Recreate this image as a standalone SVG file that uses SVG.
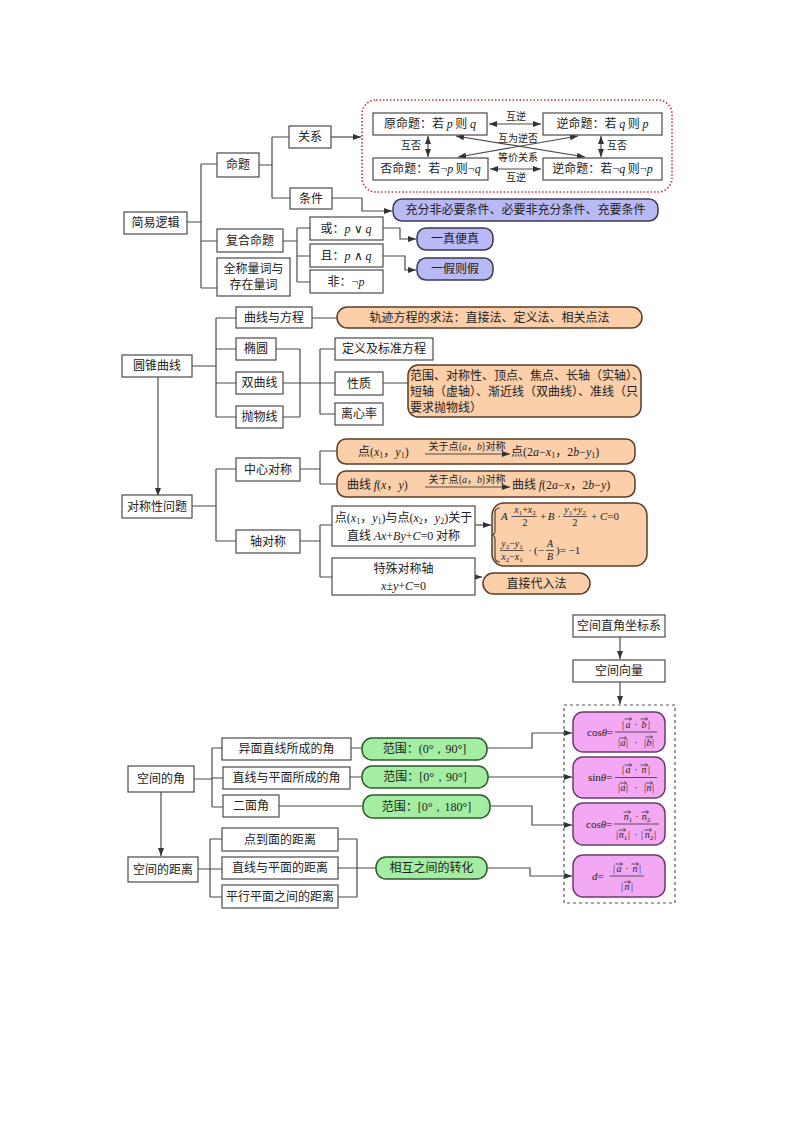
<svg xmlns="http://www.w3.org/2000/svg" width="800" height="1132" viewBox="0 0 800 1132">
<style>
.b{fill:#fff;stroke:#4a4a4a;stroke-width:1.2}
.p{fill:#b9b9f4;stroke:#3a3a55;stroke-width:1.5}
.o{fill:#fbcfaa;stroke:#5a3d28;stroke-width:1.5}
.g{fill:#a3eea3;stroke:#2e5a2e;stroke-width:1.5}
.k{fill:#f3a8f3;stroke:#6b3a6b;stroke-width:1.5}
.c{fill:none;stroke:#4a4a4a;stroke-width:1.2}
.a{marker-end:url(#ah)}
.d{marker-start:url(#ah);marker-end:url(#ah)}
text{fill:#222}
.t{font-family:"Noto Sans CJK SC","Noto Sans",sans-serif;font-size:12px;text-anchor:middle}
.s{font-size:10px}
.m{font-family:"Liberation Serif",serif;font-style:italic}
.r{font-family:"Liberation Serif",serif;font-style:normal}
.f{font-family:"Liberation Serif",serif;font-size:11px;text-anchor:middle}
.fs{font-size:10px}
.va{fill:none;stroke:#333;stroke-width:0.8}
.bar{stroke:#333;stroke-width:0.8}
.l{text-anchor:start}
</style>
<defs>
<marker id="ah" viewBox="0 0 8 6" refX="8" refY="3" markerWidth="8" markerHeight="6" markerUnits="userSpaceOnUse" orient="auto-start-reverse"><path d="M0 0L8 3L0 6z" fill="#333"/></marker>
<path id="va" d="M-3.5 0h7m-2-1.6l2 1.6l-2 1.6"/>
</defs>

<g id="connectors">
<!-- section 1 -->
<path class="c" d="M187 222H201M201 164V288M201 164H217M201 241H217M201 288H217"/>
<path class="c" d="M259 165H272M272 137V198M272 137H289M272 198H290"/>
<path class="c a" d="M331 137H361"/>
<path class="c a" d="M332 198H362V211H392"/>
<path class="c" d="M283 241H297M297 228V282M297 228H310M297 256H310M297 282H310"/>
<path class="c a" d="M383 228H400V239H416"/>
<path class="c a" d="M383 256H405V270H416"/>
<path class="c d" d="M489 124H541"/>
<path class="c d" d="M490 169H541"/>
<path class="c d" d="M428 136V157"/>
<path class="c d" d="M601 136V157"/>
<path class="c d" d="M456 136L585 157"/>
<path class="c d" d="M578 136L458 157"/>
<!-- section 2 -->
<path class="c" d="M192 366H216M216 318V417M216 318H236M216 349H236M216 383H236M216 417H236"/>
<path class="c" d="M276 349H300M283 417H300M300 349V417M283 383H335M320 349V414M320 349H335M320 414H335"/>
<path class="c" d="M383 383H408M312 318H337"/>
<path class="c a" d="M158 377V496"/>
<!-- section 3 -->
<path class="c" d="M192 506H216M216 469V541M216 469H236M216 541H236"/>
<path class="c" d="M300 469H320M320 451V484M320 451H337M320 484H337"/>
<path class="c" d="M300 541H320M320 525V577M320 525H332M320 577H332"/>
<path class="c a" d="M475 525H491"/>
<path class="c a" d="M475 577H482"/>
<!-- section 4 -->
<path class="c a" d="M620 637V659"/>
<path class="c a" d="M620 682V704"/>
<path class="c" d="M194 779H212M212 748V807M212 748H222M212 778H223M212 807H223"/>
<path class="c a" d="M161 792V856"/>
<path class="c" d="M351 748H362M350 777H362M279 806H363"/>
<path class="c a" d="M487 748H532V733H572"/>
<path class="c a" d="M488 777H572"/>
<path class="c a" d="M490 806H532V825H572"/>
<path class="c a" d="M487 868H530V876H572"/>
<path class="c" d="M198 869H222M210 839V897M210 839H222M210 897H222"/>
<path class="c" d="M338 839H357M338 897H357M357 839V897M338 868H376"/>
</g>

<!-- ========== Section 1 ========== -->
<g id="n-jianyiluoji"><rect class="b" x="124" y="212" width="63" height="22"/><text class="t" x="155.5" y="227">简易逻辑</text></g>
<g id="n-mingti"><rect class="b" x="217" y="153" width="42" height="24"/><text class="t" x="238" y="169">命题</text></g>
<g id="n-fuhe"><rect class="b" x="217" y="229" width="66" height="23"/><text class="t" x="250" y="245">复合命题</text></g>
<g id="n-quancheng"><rect class="b" x="217" y="258" width="73" height="38"/><text class="t" x="253.5" y="273">全称量词与</text><text class="t" x="253.5" y="289">存在量词</text></g>
<g id="n-guanxi"><rect class="b" x="289" y="126" width="42" height="22"/><text class="t" x="310" y="141">关系</text></g>
<g id="n-tiaojian"><rect class="b" x="290" y="188" width="42" height="21"/><text class="t" x="311" y="203">条件</text></g>
<g id="n-huo"><rect class="b" x="310" y="217" width="73" height="23"/><text class="t" x="346" y="233">或：<tspan class="m">p</tspan><tspan class="r"> ∨ </tspan><tspan class="m">q</tspan></text></g>
<g id="n-qie"><rect class="b" x="310" y="244" width="73" height="23"/><text class="t" x="346" y="260">且：<tspan class="m">p</tspan><tspan class="r"> ∧ </tspan><tspan class="m">q</tspan></text></g>
<g id="n-fei"><rect class="b" x="310" y="270" width="73" height="23"/><text class="t" x="346" y="286">非：<tspan class="r">¬</tspan><tspan class="m">p</tspan></text></g>

<g id="n-sizhong">
<rect x="362" y="100" width="310" height="92" rx="14" fill="none" stroke="#c8323c" stroke-width="1.6" stroke-dasharray="1.5 2"/>
</g>
<g id="n-yuan"><rect class="b" x="373" y="113" width="114" height="22"/><text class="t" x="430" y="128">原命题：若 <tspan class="m">p</tspan> 则 <tspan class="m">q</tspan></text></g>
<g id="n-ni"><rect class="b" x="543" y="113" width="119" height="22"/><text class="t" x="602.5" y="128">逆命题：若 <tspan class="m">q</tspan> 则 <tspan class="m">p</tspan></text></g>
<g id="n-fou"><rect class="b" x="373" y="158" width="115" height="22"/><text class="t" x="430.5" y="173">否命题：若<tspan class="r">¬</tspan><tspan class="m">p</tspan> 则<tspan class="r">¬</tspan><tspan class="m">q</tspan></text></g>
<g id="n-nifou"><rect class="b" x="543" y="158" width="119" height="22"/><text class="t" x="602.5" y="173">逆命题：若<tspan class="r">¬</tspan><tspan class="m">q</tspan> 则<tspan class="r">¬</tspan><tspan class="m">p</tspan></text></g>
<g id="labels-rel">
<text class="t s" x="516" y="120">互逆</text>
<text class="t s" x="516" y="181">互逆</text>
<text class="t s" x="411" y="149">互否</text>
<text class="t s" x="617" y="149">互否</text>
<text class="t s" x="518" y="142">互为逆否</text>
<text class="t s" x="518" y="161">等价关系</text>
</g>
<g id="n-chongfen"><rect class="p" x="393" y="199" width="265" height="22" rx="9"/><text class="t" x="525.5" y="214">充分非必要条件、必要非充分条件、充要条件</text></g>
<g id="n-yizhen"><rect class="p" x="417" y="228" width="76" height="22" rx="9"/><text class="t" x="455" y="243">一真便真</text></g>
<g id="n-yijia"><rect class="p" x="417" y="258" width="76" height="22" rx="9"/><text class="t" x="455" y="273">一假则假</text></g>

<!-- ========== Section 2 ========== -->
<g id="n-yuanzhui"><rect class="b" x="122" y="355" width="70" height="22"/><text class="t" x="157" y="370">圆锥曲线</text></g>
<g id="n-quxianfc"><rect class="b" x="236" y="307" width="76" height="21"/><text class="t" x="274" y="322">曲线与方程</text></g>
<g id="n-tuoyuan"><rect class="b" x="236" y="338" width="40" height="22"/><text class="t" x="256" y="353">椭圆</text></g>
<g id="n-shuangqu"><rect class="b" x="236" y="372" width="47" height="22"/><text class="t" x="259.5" y="387">双曲线</text></g>
<g id="n-paowu"><rect class="b" x="236" y="406" width="47" height="22"/><text class="t" x="259.5" y="421">抛物线</text></g>
<g id="n-dingyi"><rect class="b" x="335" y="338" width="98" height="22"/><text class="t" x="384" y="353">定义及标准方程</text></g>
<g id="n-xingzhi"><rect class="b" x="335" y="372" width="48" height="23"/><text class="t" x="359" y="388">性质</text></g>
<g id="n-lixin"><rect class="b" x="335" y="403" width="48" height="22"/><text class="t" x="359" y="418">离心率</text></g>
<g id="n-guiji"><rect class="o" x="337" y="307" width="305" height="21" rx="10.5"/><text class="t" x="489.5" y="322">轨迹方程的求法：直接法、定义法、相关点法</text></g>
<g id="n-fanwei"><rect class="o" x="408" y="365" width="233" height="52" rx="10"/>
<text class="t l" x="410" y="380">范围、对称性、顶点、焦点、长轴（实轴）、</text>
<text class="t l" x="410" y="396">短轴（虚轴）、渐近线（双曲线）、准线（只</text>
<text class="t l" x="410" y="412">要求抛物线）</text></g>

<!-- ========== Section 3 ========== -->
<g id="n-duichen"><rect class="b" x="122" y="495" width="70" height="23"/><text class="t" x="157" y="511">对称性问题</text></g>
<g id="n-zhongxin"><rect class="b" x="236" y="458" width="64" height="23"/><text class="t" x="268" y="474">中心对称</text></g>
<g id="n-zhou"><rect class="b" x="236" y="530" width="64" height="23"/><text class="t" x="268" y="546">轴对称</text></g>
<g id="n-dian"><rect class="o" x="337" y="439" width="298" height="25" rx="9"/>
<text class="t l" x="358" y="456">点<tspan class="r">(</tspan><tspan class="m">x</tspan><tspan class="r" font-size="8" dy="2">1</tspan><tspan dy="-2">，</tspan><tspan class="m">y</tspan><tspan class="r" font-size="8" dy="2">1</tspan><tspan class="r" dy="-2">)</tspan></text>
<text class="t s" x="467" y="450">关于点(<tspan class="m">a</tspan>，<tspan class="m">b</tspan>)对称</text>
<path class="c a" d="M425 454H510"/>
<text class="t l" x="511" y="456">点<tspan class="r">(2</tspan><tspan class="m">a</tspan><tspan class="r">−</tspan><tspan class="m">x</tspan><tspan class="r" font-size="8" dy="2">1</tspan><tspan dy="-2">，</tspan><tspan class="r">2</tspan><tspan class="m">b</tspan><tspan class="r">−</tspan><tspan class="m">y</tspan><tspan class="r" font-size="8" dy="2">1</tspan><tspan class="r" dy="-2">)</tspan></text></g>
<g id="n-quxian"><rect class="o" x="337" y="471" width="298" height="26" rx="9"/>
<text class="t l" x="347" y="489">曲线 <tspan class="m">f</tspan><tspan class="r">(</tspan><tspan class="m">x</tspan>，<tspan class="m">y</tspan><tspan class="r">)</tspan></text>
<text class="t s" x="467" y="483">关于点(<tspan class="m">a</tspan>，<tspan class="m">b</tspan>)对称</text>
<path class="c a" d="M425 487H510"/>
<text class="t l" x="512" y="489">曲线 <tspan class="m">f</tspan><tspan class="r">(2</tspan><tspan class="m">a</tspan><tspan class="r">−</tspan><tspan class="m">x</tspan>，<tspan class="r">2</tspan><tspan class="m">b</tspan><tspan class="r">−</tspan><tspan class="m">y</tspan><tspan class="r">)</tspan></text></g>
<g id="n-liangdian"><rect class="b" x="332" y="506" width="143" height="40"/>
<text class="t" x="403.5" y="522">点<tspan class="r">(</tspan><tspan class="m">x</tspan><tspan class="r" font-size="8" dy="2">1</tspan><tspan dy="-2">，</tspan><tspan class="m">y</tspan><tspan class="r" font-size="8" dy="2">1</tspan><tspan class="r" dy="-2">)</tspan>与点<tspan class="r">(</tspan><tspan class="m">x</tspan><tspan class="r" font-size="8" dy="2">2</tspan><tspan dy="-2">，</tspan><tspan class="m">y</tspan><tspan class="r" font-size="8" dy="2">2</tspan><tspan class="r" dy="-2">)</tspan>关于</text>
<text class="t" x="403.5" y="540">直线 <tspan class="m">Ax</tspan><tspan class="r">+</tspan><tspan class="m">By</tspan><tspan class="r">+</tspan><tspan class="m">C</tspan><tspan class="r">=0</tspan> 对称</text></g>
<g id="n-fangcheng"><rect class="o" x="492" y="503" width="155" height="63" rx="12"/>
<path class="c" d="M500 508Q495 508 495 513V531Q495 535 491 535Q495 535 495 539V557Q495 562 500 562"/>
<text class="f l" x="501" y="520"><tspan class="m">A</tspan></text>
<text class="f" x="512" y="520">·</text>
<text class="f fs" x="525" y="513"><tspan class="m">x</tspan><tspan font-size="7" dy="2">1</tspan><tspan dy="-2">+</tspan><tspan class="m">x</tspan><tspan font-size="7" dy="2">2</tspan></text>
<line class="bar" x1="513" y1="516.5" x2="537" y2="516.5"/>
<text class="f fs" x="525" y="526">2</text>
<text class="f" x="543" y="520">+</text>
<text class="f" x="551" y="520"><tspan class="m">B</tspan></text>
<text class="f" x="559" y="520">·</text>
<text class="f fs" x="575" y="513"><tspan class="m">y</tspan><tspan font-size="7" dy="2">1</tspan><tspan dy="-2">+</tspan><tspan class="m">y</tspan><tspan font-size="7" dy="2">2</tspan></text>
<line class="bar" x1="563" y1="516.5" x2="587" y2="516.5"/>
<text class="f fs" x="575" y="526">2</text>
<text class="f l" x="591" y="520">+ <tspan class="m">C</tspan>=0</text>
<text class="f fs" x="512" y="547"><tspan class="m">y</tspan><tspan font-size="7" dy="2">2</tspan><tspan dy="-2">−</tspan><tspan class="m">y</tspan><tspan font-size="7" dy="2">1</tspan></text>
<line class="bar" x1="500" y1="550.5" x2="524" y2="550.5"/>
<text class="f fs" x="512" y="560"><tspan class="m">x</tspan><tspan font-size="7" dy="2">2</tspan><tspan dy="-2">−</tspan><tspan class="m">x</tspan><tspan font-size="7" dy="2">1</tspan></text>
<text class="f" x="530" y="554">·</text>
<text class="f" x="539" y="554">(−</text>
<text class="f fs" x="550" y="547"><tspan class="m">A</tspan></text>
<line class="bar" x1="546" y1="550.5" x2="554" y2="550.5"/>
<text class="f fs" x="550" y="560"><tspan class="m">B</tspan></text>
<text class="f l" x="556" y="554">)= −1</text></g>
<g id="n-teshu"><rect class="b" x="332" y="558" width="143" height="37"/>
<text class="t" x="403.5" y="573">特殊对称轴</text>
<text class="t" x="403.5" y="590"><tspan class="m">x</tspan><tspan class="r">±</tspan><tspan class="m">y</tspan><tspan class="r">+</tspan><tspan class="m">C</tspan><tspan class="r">=0</tspan></text></g>
<g id="n-zhijie"><rect class="o" x="483" y="573" width="107" height="21" rx="10.5"/><text class="t" x="536.5" y="588">直接代入法</text></g>

<!-- ========== Section 4 ========== -->
<g id="n-zuobiao"><rect class="b" x="573" y="615" width="92" height="22"/><text class="t" x="619" y="630">空间直角坐标系</text></g>
<g id="n-xiangliang"><rect class="b" x="573" y="660" width="92" height="22"/><text class="t" x="619" y="675">空间向量</text></g>
<g id="n-gongshi"><rect x="564" y="705" width="111" height="198" fill="none" stroke="#555" stroke-width="1.2" stroke-dasharray="3 3"/></g>
<g id="n-jiao"><rect class="b" x="128" y="766" width="66" height="26"/><text class="t" x="161" y="783">空间的角</text></g>
<g id="n-juli"><rect class="b" x="128" y="857" width="70" height="25"/><text class="t" x="163" y="874">空间的距离</text></g>
<g id="n-yimian"><rect class="b" x="222" y="738" width="129" height="22"/><text class="t" x="286.5" y="753">异面直线所成的角</text></g>
<g id="n-xianmian"><rect class="b" x="223" y="767" width="127" height="22"/><text class="t" x="286.5" y="782">直线与平面所成的角</text></g>
<g id="n-ermian"><rect class="b" x="223" y="795" width="56" height="22"/><text class="t" x="251" y="810">二面角</text></g>
<g id="n-diandao"><rect class="b" x="222" y="828" width="116" height="23"/><text class="t" x="280" y="844">点到面的距离</text></g>
<g id="n-xianpm"><rect class="b" x="222" y="857" width="116" height="22"/><text class="t" x="280" y="872">直线与平面的距离</text></g>
<g id="n-pingxing"><rect class="b" x="222" y="885" width="116" height="23"/><text class="t" x="280" y="901">平行平面之间的距离</text></g>
<g id="n-fw1"><rect class="g" x="362" y="738" width="125" height="22" rx="10"/><text class="t" x="424.5" y="753">范围：<tspan class="r">(0°，90°]</tspan></text></g>
<g id="n-fw2"><rect class="g" x="362" y="766" width="126" height="22" rx="10"/><text class="t" x="425" y="781">范围：<tspan class="r">[0°，90°]</tspan></text></g>
<g id="n-fw3"><rect class="g" x="363" y="795" width="127" height="23" rx="10"/><text class="t" x="426.5" y="811">范围：<tspan class="r">[0°，180°]</tspan></text></g>
<g id="n-zhuanhua"><rect class="g" x="376" y="857" width="111" height="22" rx="10"/><text class="t" x="431.5" y="872">相互之间的转化</text></g>

<g id="n-cos1"><rect class="k" x="573" y="712" width="92" height="40" rx="10"/>
<text class="f l" x="587" y="736">cos<tspan class="m">θ</tspan>=</text>
<text class="f fs" x="623" y="728">|</text><text class="f fs" x="628" y="728"><tspan class="m">a</tspan></text><text class="f fs" x="636" y="728">·</text><text class="f fs" x="644" y="728"><tspan class="m">b</tspan></text><text class="f fs" x="649" y="728">|</text>
<use class="va" href="#va" x="628" y="719"/><use class="va" href="#va" x="644" y="719"/>
<line class="bar" x1="615" y1="732" x2="657" y2="732"/>
<text class="f fs" x="619" y="746">|</text><text class="f fs" x="623" y="746"><tspan class="m">a</tspan></text><text class="f fs" x="627" y="746">|</text><text class="f fs" x="636" y="746">·</text><text class="f fs" x="645" y="746">|</text><text class="f fs" x="649" y="746"><tspan class="m">b</tspan></text><text class="f fs" x="653" y="746">|</text>
<use class="va" href="#va" x="623" y="738"/><use class="va" href="#va" x="649" y="737"/></g>

<g id="n-sin"><rect class="k" x="573" y="757" width="92" height="41" rx="10"/>
<text class="f l" x="588" y="781">sin<tspan class="m">θ</tspan>=</text>
<text class="f fs" x="623" y="773">|</text><text class="f fs" x="628" y="773"><tspan class="m">a</tspan></text><text class="f fs" x="636" y="773">·</text><text class="f fs" x="644" y="773"><tspan class="m">n</tspan></text><text class="f fs" x="649" y="773">|</text>
<use class="va" href="#va" x="628" y="765"/><use class="va" href="#va" x="644" y="765"/>
<line class="bar" x1="615" y1="777.5" x2="657" y2="777.5"/>
<text class="f fs" x="619" y="791">|</text><text class="f fs" x="623" y="791"><tspan class="m">a</tspan></text><text class="f fs" x="627" y="791">|</text><text class="f fs" x="636" y="791">·</text><text class="f fs" x="645" y="791">|</text><text class="f fs" x="649" y="791"><tspan class="m">n</tspan></text><text class="f fs" x="653" y="791">|</text>
<use class="va" href="#va" x="623" y="783"/><use class="va" href="#va" x="649" y="783"/></g>

<g id="n-cos2"><rect class="k" x="573" y="803" width="92" height="42" rx="10"/>
<text class="f l" x="586" y="828">cos<tspan class="m">θ</tspan>=</text>
<text class="f fs" x="628" y="820"><tspan class="m">n</tspan><tspan font-size="7" dy="2">1</tspan></text><text class="f fs" x="637" y="820">·</text><text class="f fs" x="646" y="820"><tspan class="m">n</tspan><tspan font-size="7" dy="2">2</tspan></text>
<use class="va" href="#va" x="627" y="812"/><use class="va" href="#va" x="645" y="812"/>
<line class="bar" x1="614" y1="824" x2="659" y2="824"/>
<text class="f fs" x="617" y="838">|</text><text class="f fs" x="623" y="838"><tspan class="m">n</tspan><tspan font-size="7" dy="2">1</tspan></text><text class="f fs" x="629" y="838">|</text><text class="f fs" x="636" y="838">·</text><text class="f fs" x="642" y="838">|</text><text class="f fs" x="649" y="838"><tspan class="m">n</tspan><tspan font-size="7" dy="2">2</tspan></text><text class="f fs" x="655" y="838">|</text>
<use class="va" href="#va" x="622" y="830"/><use class="va" href="#va" x="648" y="830"/></g>

<g id="n-d"><rect class="k" x="573" y="855" width="92" height="42" rx="10"/>
<text class="f l" x="592" y="880"><tspan class="m">d</tspan>=</text>
<text class="f fs" x="614" y="872">|</text><text class="f fs" x="619" y="872"><tspan class="m">a</tspan></text><text class="f fs" x="627" y="872">·</text><text class="f fs" x="635" y="872"><tspan class="m">n</tspan></text><text class="f fs" x="640" y="872">|</text>
<use class="va" href="#va" x="619" y="864"/><use class="va" href="#va" x="635" y="864"/>
<line class="bar" x1="610" y1="876" x2="644" y2="876"/>
<text class="f fs" x="622" y="890">|</text><text class="f fs" x="627" y="890"><tspan class="m">n</tspan></text><text class="f fs" x="632" y="890">|</text>
<use class="va" href="#va" x="627" y="882"/></g>
</svg>
